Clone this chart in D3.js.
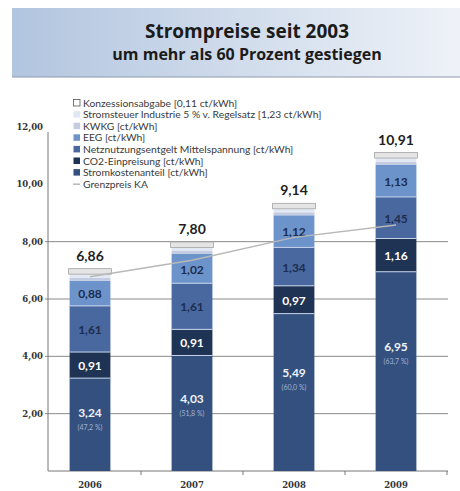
<!DOCTYPE html>
<html>
<head>
<meta charset="utf-8">
<script src="https://cdn.jsdelivr.net/npm/d3@7"></script>
<style>
  body { margin: 0; background: #fff; }
  svg { display: block; }
</style>
</head>
<body>
<div id="chart"></div>
<script>
// values (ct/kWh)
const years = ["2006", "2007", "2008", "2009"];
const stromkosten = [3.24, 4.03, 5.49, 6.95];
const co2 = [0.91, 0.91, 0.97, 1.16];
const netz = [1.61, 1.61, 1.34, 1.45];
const eeg = [0.88, 1.02, 1.12, 1.13];
const kwkg = [0.05, 0.06, 0.05, 0.05];
const stromsteuer = [0.06, 0.06, 0.06, 0.06];
const konzession = [0.11, 0.11, 0.11, 0.11];
const totals = [6.86, 7.80, 9.14, 10.91];
const shares = [47.2, 51.8, 60.0, 63.7];
const grenzpreis = [6.78, 7.35, 8.15, 8.58];
const yTicks = [2, 4, 6, 8, 10, 12];
const gridTicks = [2, 4, 6, 8];

const legendItems = [
  { label: "Konzessionsabgabe [0,11 ct/kWh]", color: "#fff", type: "box" },
  { label: "Stromsteuer Industrie 5 % v. Regelsatz [1,23 ct/kWh]", color: "#e2e8f3", type: "sq" },
  { label: "KWKG [ct/kWh]", color: "#c3cce1", type: "sq" },
  { label: "EEG [ct/kWh]", color: "#6d93cb", type: "sq" },
  { label: "Netznutzungsentgelt Mittelspannung [ct/kWh]", color: "#4a68a0", type: "sq" },
  { label: "CO2-Einpreisung [ct/kWh]", color: "#1f3354", type: "sq" },
  { label: "Stromkostenanteil [ct/kWh]", color: "#34507f", type: "sq" },
  { label: "Grenzpreis KA", color: "#b8b8b8", type: "line" }
];

const width = 460, height = 491;
const fmt = v => d3.format(".2f")(v).replace(".", ",");

const svg = d3.select("#chart").append("svg")
  .attr("width", width)
  .attr("height", height);

// title band
const grad = svg.append("defs").append("linearGradient")
  .attr("id", "band").attr("x1", "0%").attr("x2", "100%");
grad.append("stop").attr("offset", "0%").attr("stop-color", "#b2c5df");
grad.append("stop").attr("offset", "100%").attr("stop-color", "#eef2f8");

svg.append("rect")
  .attr("x", 12).attr("y", 8).attr("width", 448).attr("height", 69)
  .attr("fill", "url(#band)");
svg.append("line")
  .attr("x1", 12).attr("x2", 460).attr("y1", 77).attr("y2", 77)
  .attr("stroke", "#8d99ad").attr("stroke-width", 1.2);

svg.append("text")
  .attr("x", 247).attr("y", 38)
  .attr("text-anchor", "middle")
  .style("font-family", "'Open Sans', Lato, sans-serif")
  .style("font-weight", 700)
  .style("font-size", "19px")
  .style("fill", "#1b1b1b")
  .text("Strompreise seit 2003");
svg.append("text")
  .attr("x", 247).attr("y", 60)
  .attr("text-anchor", "middle")
  .style("font-family", "'Open Sans', Lato, sans-serif")
  .style("font-weight", 700)
  .style("font-size", "16px")
  .style("fill", "#1b1b1b")
  .text("um mehr als 60 Prozent gestiegen");

// scales
const x = d3.scaleBand()
  .domain(years)
  .range([39, 447])
  .paddingInner(0.6)
  .paddingOuter(0.3);

const y = d3.scaleLinear()
  .domain([0, 12])
  .range([471, 127]);

const axisX = 48;

// grid lines
svg.append("g").selectAll("line")
  .data(gridTicks)
  .enter().append("line")
  .attr("x1", axisX - 3).attr("x2", 448)
  .attr("y1", d => y(d)).attr("y2", d => y(d))
  .attr("stroke", "#8a8a8a").attr("stroke-width", 1);

// y axis
svg.append("line")
  .attr("x1", axisX).attr("x2", axisX)
  .attr("y1", y(12) + 5).attr("y2", y(0))
  .attr("stroke", "#777").attr("stroke-width", 1);

svg.append("g").selectAll("text")
  .data(yTicks)
  .enter().append("text")
  .attr("x", axisX - 5)
  .attr("y", d => y(d) + 3)
  .attr("text-anchor", "end")
  .style("font-family", "'DejaVu Serif', serif")
  .style("font-weight", 700)
  .style("font-size", "8.5px")
  .style("fill", "#333")
  .text(d => fmt(d));

// x axis
svg.append("line")
  .attr("x1", axisX).attr("x2", 448)
  .attr("y1", y(0)).attr("y2", y(0))
  .attr("stroke", "#777").attr("stroke-width", 1);

svg.append("g").selectAll("line")
  .data(years)
  .enter().append("line")
  .attr("x1", d => x(d) + x.bandwidth() + x.step() * 0.3)
  .attr("x2", d => x(d) + x.bandwidth() + x.step() * 0.3)
  .attr("y1", y(0)).attr("y2", y(0) + 4)
  .attr("stroke", "#777");

svg.append("g").selectAll("text")
  .data(years)
  .enter().append("text")
  .attr("x", d => x(d) + x.bandwidth() / 2)
  .attr("y", 488)
  .attr("text-anchor", "middle")
  .style("font-family", "'DejaVu Serif', serif")
  .style("font-weight", 700)
  .style("font-size", "8.5px")
  .style("fill", "#333")
  .text(d => d);

// stacked bars
const rows = years.map((yr, i) => ({
  year: yr,
  strom: stromkosten[i], co2: co2[i], netz: netz[i], eeg: eeg[i],
  kwkg: kwkg[i], steuer: stromsteuer[i], konz: konzession[i],
  total: totals[i], share: shares[i]
}));

const mainKeys = ["strom", "co2", "netz", "eeg"];
const mainColors = { strom: "#34507f", co2: "#1f3354", netz: "#4a68a0", eeg: "#6d93cb" };
const labelColors = { strom: "#eef2fa", co2: "#ffffff", netz: "#1c2d4d", eeg: "#1c2d4d" };

const stacked = d3.stack().keys(mainKeys)(rows);

const bars = svg.append("g");
stacked.forEach(layer => {
  bars.selectAll(null)
    .data(layer)
    .enter().append("rect")
    .attr("x", d => x(d.data.year))
    .attr("width", x.bandwidth())
    .attr("y", d => y(d[1]))
    .attr("height", d => y(d[0]) - y(d[1]))
    .attr("fill", mainColors[layer.key]);
});

// light separators between segments
stacked.slice(0, 3).forEach(layer => {
  bars.selectAll(null)
    .data(layer)
    .enter().append("line")
    .attr("x1", d => x(d.data.year))
    .attr("x2", d => x(d.data.year) + x.bandwidth())
    .attr("y1", d => y(d[1]))
    .attr("y2", d => y(d[1]))
    .attr("stroke", "#c6d4ea")
    .attr("stroke-width", 1);
});

// small top segments (drawn with a minimum visible height)
const topParts = [
  { key: "kwkg", color: "#c3cce1", minH: 3 },
  { key: "steuer", color: "#e2e8f3", minH: 3.5 },
  { key: "konz", color: "#e4e4e4", minH: 5.5, box: true }
];
const barTops = rows.map(r => {
  let top = y(r.strom + r.co2 + r.netz + r.eeg);
  topParts.forEach(p => {
    const h = Math.max(y(0) - y(r[p.key]), p.minH);
    top -= h;
    const rect = bars.append("rect")
      .attr("x", x(r.year) - (p.box ? 1 : 0))
      .attr("width", x.bandwidth() + (p.box ? 2 : 0))
      .attr("y", top)
      .attr("height", h)
      .attr("fill", p.color);
    if (p.box) rect.attr("stroke", "#a3a3a3").attr("stroke-width", 0.8);
  });
  return top;
});

// segment value labels
stacked.forEach(layer => {
  const isStrom = layer.key === "strom";
  bars.selectAll(null)
    .data(layer)
    .enter().append("text")
    .attr("x", d => x(d.data.year) + x.bandwidth() / 2)
    .attr("y", d => isStrom
      ? y(d[0]) - (y(d[0]) - y(d[1])) * 0.62 + 4
      : (y(d[0]) + y(d[1])) / 2 + 5)
    .attr("text-anchor", "middle")
    .style("font-family", "Lato, 'Open Sans', sans-serif")
    .style("font-weight", 700)
    .style("font-size", "12px")
    .style("fill", labelColors[layer.key])
    .text(d => fmt(d.data[layer.key]));
});

bars.selectAll(null)
  .data(stacked[0])
  .enter().append("text")
  .attr("x", d => x(d.data.year) + x.bandwidth() / 2)
  .attr("y", d => y(d[0]) - (y(d[0]) - y(d[1])) * 0.62 + 17)
  .attr("text-anchor", "middle")
  .style("font-family", "Lato, 'Open Sans', sans-serif")
  .style("font-size", "7px")
  .style("fill", "#9fb3d6")
  .text(d => "(" + d3.format(".1f")(d.data.share).replace(".", ",") + " %)");

// totals above bars
svg.append("g").selectAll("text")
  .data(rows)
  .enter().append("text")
  .attr("x", d => x(d.year) + x.bandwidth() / 2)
  .attr("y", (d, i) => barTops[i] - 8)
  .attr("text-anchor", "middle")
  .style("font-family", "Lato, 'Open Sans', sans-serif")
  .style("font-weight", 700)
  .style("font-size", "14px")
  .style("fill", "#1e1e1e")
  .text(d => fmt(d.total));

// Grenzpreis line
const line = d3.line()
  .x((d, i) => x(years[i]) + x.bandwidth() / 2)
  .y(d => y(d));

svg.append("path")
  .datum(grenzpreis)
  .attr("d", line)
  .attr("fill", "none")
  .attr("stroke", "#b8b8b8")
  .attr("stroke-width", 1.5);

// legend
const legend = svg.append("g").attr("transform", "translate(73, 103)");
const items = legend.selectAll("g")
  .data(legendItems)
  .enter().append("g")
  .attr("transform", (d, i) => `translate(0, ${i * 11.6})`);

items.each(function(d) {
  const g = d3.select(this);
  if (d.type === "line") {
    g.append("line")
      .attr("x1", 0).attr("x2", 7).attr("y1", 0).attr("y2", 0)
      .attr("stroke", d.color).attr("stroke-width", 1.5);
  } else {
    g.append("rect")
      .attr("x", 0.5).attr("y", -3.5)
      .attr("width", 6.5).attr("height", 6.5)
      .attr("fill", d.color)
      .attr("stroke", d.type === "box" ? "#555" : "none")
      .attr("stroke-width", 0.8);
  }
});

items.append("text")
  .attr("x", 10)
  .attr("y", 3.5)
  .style("font-family", "Lato, 'Open Sans', sans-serif")
  .style("font-size", "10.3px")
  .style("fill", "#3a3a3a")
  .text(d => d.label);
</script>
</body>
</html>
